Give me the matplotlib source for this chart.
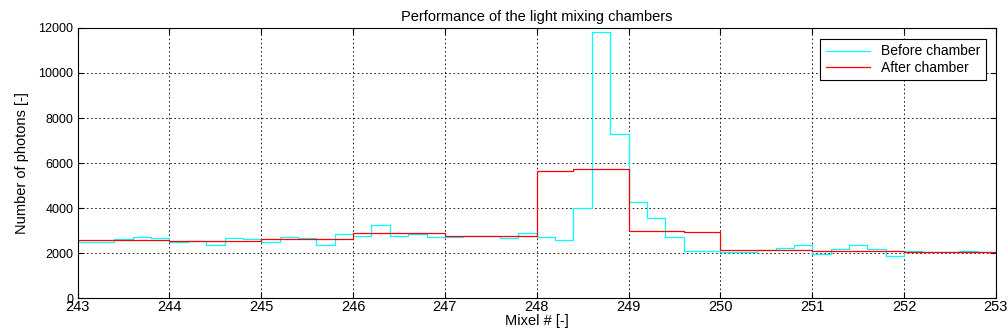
import numpy as np
import matplotlib
matplotlib.use("Agg")
import matplotlib.pyplot as plt

plt.rcParams['font.family'] = ['Liberation Sans', 'DejaVu Sans']

# mixel positions, 0.2 sub-steps from 243 to 253
x_start = 243.0
step = 0.2

before = [2480, 2480, 2620, 2740, 2670,   # 243
          2480, 2550, 2380, 2700, 2650,   # 244
          2510, 2740, 2700, 2350, 2840,   # 245
          2770, 3240, 2770, 2860, 2710,   # 246
          2710, 2770, 2770, 2680, 2890,   # 247
          2740, 2590, 4000, 11800, 7290,  # 248
          4290, 3580, 2710, 2100, 2090,   # 249
          2040, 2040, 2130, 2220, 2350,   # 250
          1960, 2180, 2350, 2180, 1880,   # 251
          2100, 2070, 2070, 2100, 2070,   # 252
          2290]                           # 253 end

after = [2580, 2580, 2580, 2580, 2580,
         2550, 2550, 2550, 2550, 2550,
         2620, 2620, 2620, 2620, 2620,
         2890, 2890, 2890, 2890, 2890,
         2770, 2770, 2770, 2770, 2770,
         5660, 5660, 5720, 5720, 5720,
         2990, 2990, 2990, 2960, 2960,
         2130, 2130, 2130, 2130, 2130,
         2110, 2110, 2110, 2110, 2110,
         2070, 2070, 2070, 2070, 2070,
         2070]

x = x_start + step * np.arange(len(before))

fig, ax = plt.subplots(figsize=(10.08, 3.36), dpi=100)
fig.subplots_adjust(left=0.077, right=0.988, top=0.917, bottom=0.112)

ax.plot(x, before, drawstyle='steps-post', color='cyan', lw=0.9, label='Before chamber')
ax.plot(x, after, drawstyle='steps-post', color='red', lw=0.9, label='After chamber')

ax.set_xlim(243, 253)
ax.set_ylim(0, 12000)
ax.set_xticks(np.arange(243, 254, 1))
ax.set_yticks(np.arange(0, 12001, 2000))
ax.tick_params(axis='x', direction='in', labelsize=10.5, pad=1, length=4)
ax.tick_params(axis='y', direction='in', labelsize=9, pad=3, length=4)
ax.tick_params(top=True, right=True)
ax.grid(True, color='black', linestyle=(0, (2, 3)), lw=0.6)

ax.set_title('Performance of the light mixing chambers', fontsize=10.5, pad=5)
ax.set_xlabel('Mixel # [-]', fontsize=10.5, labelpad=0)
ax.set_ylabel('Number of photons [-]', fontsize=10.5, labelpad=7)

leg = ax.legend(loc='upper right', fontsize=10, frameon=True, fancybox=False,
                framealpha=1, edgecolor='black', handlelength=3.2,
                borderpad=0.4, labelspacing=0.15, bbox_to_anchor=(0.997, 0.985))
leg.get_frame().set_linewidth(0.8)

fig.savefig('out.png', dpi=100)
